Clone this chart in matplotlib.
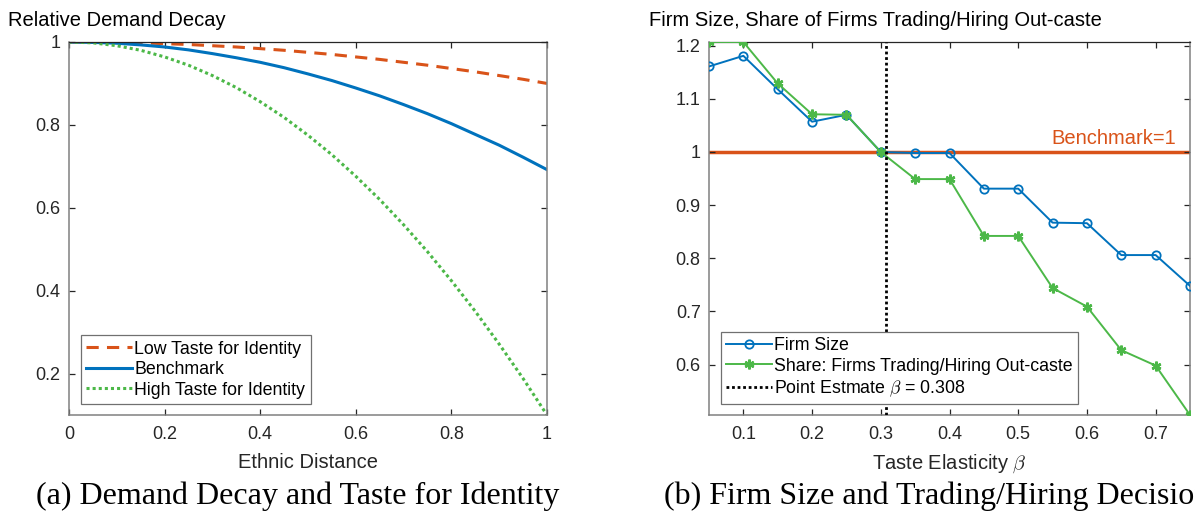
import matplotlib.pyplot as plt

plt.rcParams['font.family'] = ['Liberation Sans', 'DejaVu Sans']
plt.rcParams['mathtext.fontset'] = 'cm'

# panel (a): relative demand decay vs ethnic distance
dist = [0, 0.05, 0.1, 0.15, 0.2, 0.25, 0.3, 0.35, 0.4, 0.45, 0.5,
        0.55, 0.6, 0.65, 0.7, 0.75, 0.8, 0.85, 0.9, 0.95, 1.0]
low_taste = [1.0, 1.0, 0.999, 0.998, 0.996, 0.994, 0.991, 0.988, 0.984, 0.980, 0.975,
             0.970, 0.964, 0.958, 0.951, 0.944, 0.936, 0.928, 0.919, 0.910, 0.900]
benchmark = [1.0, 0.999, 0.997, 0.993, 0.988, 0.981, 0.972, 0.962, 0.951, 0.938, 0.923,
             0.907, 0.889, 0.870, 0.849, 0.827, 0.803, 0.777, 0.751, 0.722, 0.692]
high_taste = [1.0, 0.998, 0.991, 0.980, 0.964, 0.944, 0.919, 0.890, 0.856, 0.818, 0.775,
              0.728, 0.676, 0.620, 0.559, 0.494, 0.424, 0.350, 0.271, 0.188, 0.100]

# panel (b): firm size and share trading/hiring out-caste vs taste elasticity
beta = [0.05, 0.1, 0.15, 0.2, 0.25, 0.3, 0.35, 0.4, 0.45, 0.5, 0.55, 0.6, 0.65, 0.7, 0.75]
firm_size = [1.161, 1.181, 1.118, 1.057, 1.070, 1.0, 0.998, 0.998, 0.931, 0.931,
             0.867, 0.866, 0.806, 0.806, 0.748]
share_out = [1.207, 1.207, 1.129, 1.071, 1.070, 1.0, 0.949, 0.949, 0.842, 0.842,
             0.744, 0.709, 0.627, 0.598, 0.505]
beta_hat = 0.308

BLUE = '#0072BD'
ORANGE = '#D95319'
GREEN = '#4CB848'
TXT = '#262626'

fig = plt.figure(figsize=(11.95, 5.15), dpi=100)
ax1 = fig.add_axes([69 / 1195, 100 / 515, 478 / 1195, 373 / 515])
ax2 = fig.add_axes([709 / 1195, 100 / 515, 481 / 1195, 373 / 515])

ax1.plot(dist, low_taste, color=ORANGE, lw=2.2, ls=(0, (4, 2.7)), label='Low Taste for Identity')
ax1.plot(dist, benchmark, color=BLUE, lw=2.2, label='Benchmark')
ax1.plot(dist, high_taste, color=GREEN, lw=2.2, ls=(0, (1, 1)), label='High Taste for Identity')
ax1.set_xlim(0, 1)
ax1.set_ylim(0.1, 1)
ax1.set_xticks([0, 0.2, 0.4, 0.6, 0.8, 1])
ax1.set_xticklabels(['0', '0.2', '0.4', '0.6', '0.8', '1'])
ax1.set_yticks([0.2, 0.4, 0.6, 0.8, 1])
ax1.set_yticklabels(['0.2', '0.4', '0.6', '0.8', '1'])
ax1.set_xlabel('Ethnic Distance', fontsize=14.5, color=TXT, labelpad=7)

ax2.axhline(1.0, color=ORANGE, lw=2.5, zorder=1)
ax2.axvline(beta_hat, color='black', lw=2, ls=(0, (1, 1)), zorder=4,
            label=r'Point Estmate $\beta$ = 0.308')
l1, = ax2.plot(beta, firm_size, color=BLUE, lw=1.4, marker='o', ms=6, mfc='none',
               mew=1.3, label='Firm Size', zorder=3)
l2, = ax2.plot(beta, share_out, color=GREEN, lw=1.4, marker=(6, 2, 0), ms=7,
               mew=1.8, label='Share: Firms Trading/Hiring Out-caste', zorder=3)
ax2.text(0.73, 1.007, 'Benchmark=1', color=ORANGE, fontsize=14.5, ha='right', va='bottom')
ax2.set_xlim(0.05, 0.75)
ax2.set_ylim(min(share_out), max(share_out))
ax2.set_xticks([0.1, 0.2, 0.3, 0.4, 0.5, 0.6, 0.7])
ax2.set_yticks([0.6, 0.7, 0.8, 0.9, 1.0, 1.1, 1.2])
ax2.set_yticklabels(['0.6', '0.7', '0.8', '0.9', '1', '1.1', '1.2'])
ax2.set_xlabel(r'Taste Elasticity $\beta$', fontsize=14.5, color=TXT, labelpad=7)

for ax in (ax1, ax2):
    ax.tick_params(direction='in', top=True, right=True, length=4.5, width=0.9,
                   labelsize=13, colors=TXT, pad=8)
    ax.tick_params(axis='y', pad=6)
    for side in ('left', 'bottom', 'right'):
        ax.spines[side].set_color('#808080')
        ax.spines[side].set_linewidth(1.1)
    ax.spines['top'].set_color('#262626')
    ax.spines['top'].set_linewidth(0.9)

leg_kw = dict(loc='lower left', bbox_transform=fig.transFigure, fontsize=12.8,
              fancybox=False, framealpha=1, edgecolor='#707070', handlelength=2.55,
              handletextpad=0.15, labelspacing=0.2, borderpad=0.3, borderaxespad=0)
lg1 = ax1.legend(bbox_to_anchor=(81 / 1195, (515 - 404) / 515), **leg_kw)
h = ax2.get_legend_handles_labels()
lg2 = ax2.legend([l1, l2, h[0][0]], [l1.get_label(), l2.get_label(), h[1][0]],
                 bbox_to_anchor=(721 / 1195, (515 - 404) / 515), **leg_kw)
for lg in (lg1, lg2):
    lg.get_frame().set_linewidth(0.9)

fig.text(8 / 1195, 1 - 20 / 515, 'Relative Demand Decay', fontsize=14.5, ha='left', va='center')
fig.text(649 / 1195, 1 - 20 / 515, 'Firm Size, Share of Firms Trading/Hiring Out-caste',
         fontsize=14.5, ha='left', va='center')

fig.text(36 / 1195, 1 - 496 / 515, '(a) Demand Decay and Taste for Identity',
         fontsize=23, ha='left', va='center', family='Liberation Serif')
fig.text(664 / 1195, 1 - 496 / 515, '(b) Firm Size and Trading/Hiring Decisions',
         fontsize=23, ha='left', va='center', family='Liberation Serif')

fig.savefig('out.png', dpi=100)
